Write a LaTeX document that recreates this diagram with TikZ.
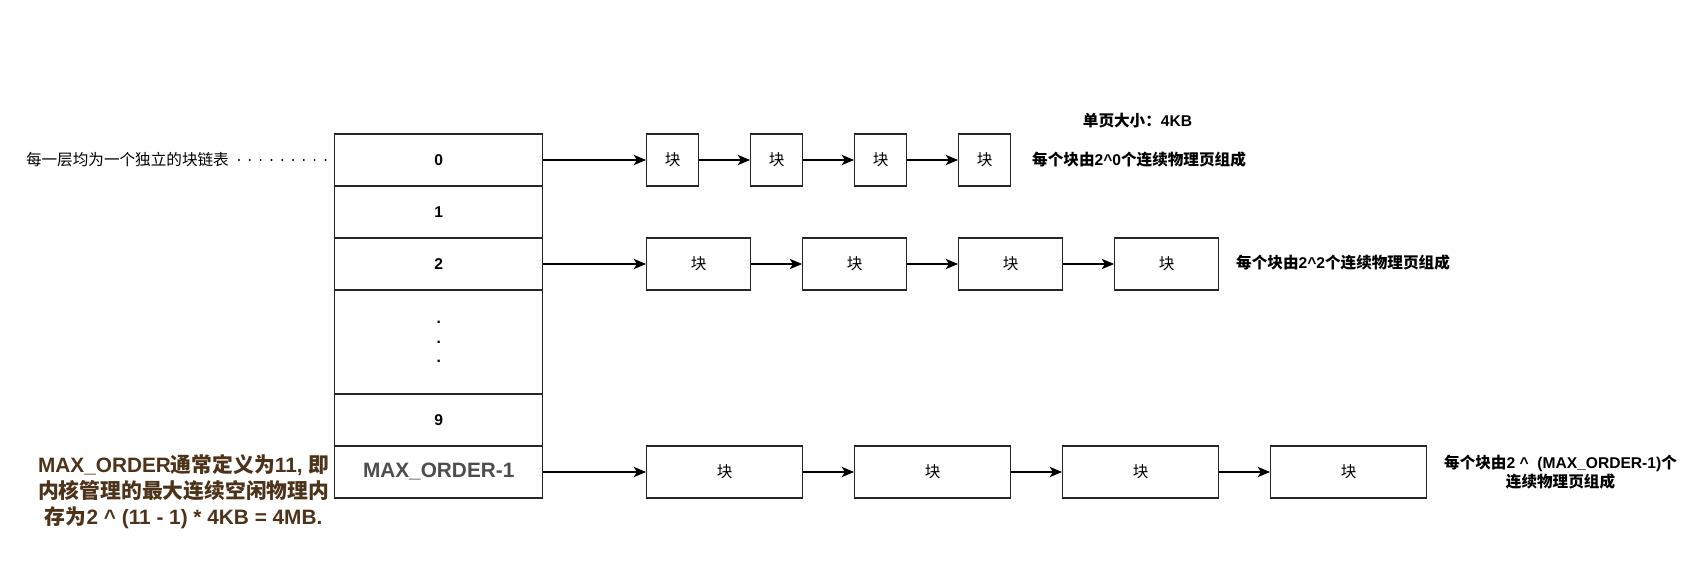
\documentclass[tikz,border=0pt]{standalone}
\usepackage{fontspec}
\setmainfont{Liberation Sans}
\newfontfamily\cjk{Noto Sans CJK SC}
\usetikzlibrary{arrows.meta}
\definecolor{notebrown}{HTML}{4D3319}
\definecolor{cellgray}{HTML}{4D4D4D}

\begin{document}
\begin{tikzpicture}[x=1pt,y=-1pt,
  cell/.style={draw=black!85, line width=1.3pt, minimum width=208pt, minimum height=52pt, inner sep=0pt, font=\fontsize{15.6}{19.3}\selectfont\bfseries},
  blk/.style={draw=black!85, line width=1.3pt, minimum height=52pt, inner sep=0pt, font=\fontsize{15.6}{18}\selectfont\cjk},
  link/.style={line width=1.3pt, -{Stealth[length=12.5pt,width=10.5pt,inset=3.5pt]}},
  note/.style={inner sep=0pt, font=\fontsize{15.6}{19}\selectfont\bfseries}]

\useasboundingbox (0,0) rectangle (1686,561);

\node[cell] (r0) at (438.7,160) {0};   %orden 0
\node[cell] (r1) at (438.7,212) {1};
\node[cell] (r2) at (438.7,264) {2};
\node[cell, minimum height=104pt, align=center] (rdots) at (438.7,342) {.\\.\\.};
\node[cell] (r9) at (438.7,420) {9};
\node[cell, text=cellgray, font=\fontsize{20.8}{25}\selectfont\bfseries] (rmax) at (438.7,472) {MAX\_ORDER-1};

\node[blk, minimum width=52pt] (a1) at (672.7,160) {块};   %bloques de 2^0
\node[blk, minimum width=52pt] (a2) at (776.7,160) {块};
\node[blk, minimum width=52pt] (a3) at (880.7,160) {块};
\node[blk, minimum width=52pt] (a4) at (984.7,160) {块};

\node[blk, minimum width=104pt] (b1) at (698.7,264) {块};   %bloques de 2^2
\node[blk, minimum width=104pt] (b2) at (854.7,264) {块};
\node[blk, minimum width=104pt] (b3) at (1010.7,264) {块};
\node[blk, minimum width=104pt] (b4) at (1166.7,264) {块};

\node[blk, minimum width=156pt] (c1) at (724.7,472) {块};   %bloques de 2^(MAX_ORDER-1)
\node[blk, minimum width=156pt] (c2) at (932.7,472) {块};
\node[blk, minimum width=156pt] (c3) at (1140.7,472) {块};
\node[blk, minimum width=156pt] (c4) at (1348.7,472) {块};

\draw[link] (r0.east) -- (a1.west);
\draw[link] (a1.east) -- (a2.west);
\draw[link] (a2.east) -- (a3.west);
\draw[link] (a3.east) -- (a4.west);
\draw[link] (r2.east) -- (b1.west);
\draw[link] (b1.east) -- (b2.west);
\draw[link] (b2.east) -- (b3.west);
\draw[link] (b3.east) -- (b4.west);
\draw[link] (rmax.east) -- (c1.west);
\draw[link] (c1.east) -- (c2.west);
\draw[link] (c2.east) -- (c3.west);
\draw[link] (c3.east) -- (c4.west);

\node[inner sep=0pt, anchor=east, font=\fontsize{15.6}{19}\selectfont\cjk] (layer) at (229,160) {每一层均为一个独立的块链表};
\draw[line width=2.2pt, dash pattern=on 0pt off 10.8pt, line cap=round] ([xshift=10pt]layer.east) -- (r0.west);

\node[note] (pagesize) at (1137.5,120.7) {{\cjk 单页大小：}4KB};
\node[note, anchor=west] (note0) at (1032,160) {{\cjk 每个块由}2\textasciicircum 0{\cjk 个连续物理页组成}};
\node[note, anchor=west] (note2) at (1236,263) {{\cjk 每个块由}2\textasciicircum 2{\cjk 个连续物理页组成}};
\node[note, align=center] (notemax) at (1560.5,472) {{\cjk 每个块由}2 \textasciicircum\ \ (MAX\_ORDER-1){\cjk 个}\\{\cjk 连续物理页组成}};

\node[inner sep=0pt, align=center, text=notebrown, font=\fontsize{20.8}{25.7}\selectfont\bfseries] (maxorder) at (183.7,491.7)
  {MAX\_ORDER{\cjk 通常定义为}11, {\cjk 即}\\{\cjk 内核管理的最大连续空闲物理内}\\{\cjk 存为}2 \textasciicircum\ (11 - 1) * 4KB = 4MB.};

\end{tikzpicture}
\end{document}
